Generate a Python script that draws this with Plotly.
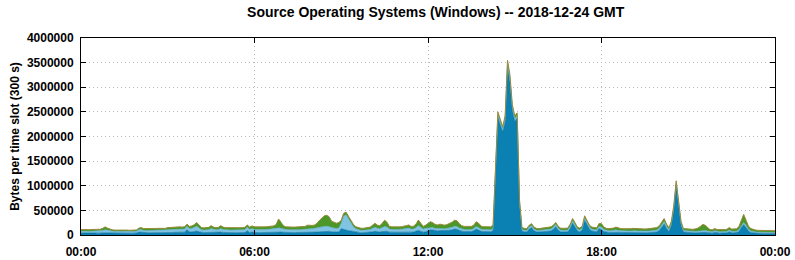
import plotly.graph_objects as go
import pandas as pd

# Values in thousands of bytes per 300 s slot, 00:00 .. 24:00 (289 slots)
dark_blue_k = [
    40,42,40,38,40,42,40,38,42,45,50,45,
    42,40,38,40,36,38,40,38,36,37,38,40,
    60,55,45,44,45,46,45,46,47,45,46,47,
    50,52,50,55,52,55,55,58,110,60,62,70,
    80,65,50,48,50,52,60,52,50,52,60,52,
    48,47,46,48,47,48,47,48,50,85,52,60,
    50,50,48,52,50,50,52,54,55,60,70,60,
    55,50,48,48,48,50,50,48,50,52,58,56,
    55,58,60,65,70,75,80,75,65,60,58,60,
    130,110,100,90,80,65,55,50,48,46,48,50,
    55,65,75,65,60,70,80,75,58,55,53,53,
    55,57,58,62,68,58,60,70,95,75,58,65,
    90,105,100,88,85,90,88,84,90,95,105,120,
    115,90,78,72,70,68,72,85,120,100,75,70,
    70,72,68,85,1200,2380,2240,2090,2300,3400,3120,2540,
    2310,2370,620,75,65,62,120,150,85,65,62,65,
    60,62,65,80,115,170,100,65,60,60,62,130,
    240,165,80,65,100,300,215,120,80,70,65,130,
    110,70,55,52,52,55,65,55,52,50,48,50,
    48,52,50,47,45,44,46,47,48,50,52,60,
    95,170,225,130,70,200,520,1020,625,210,60,55,
    45,42,40,42,45,50,55,55,48,40,38,55,
    40,38,40,40,42,65,45,42,46,65,150,210,
    150,80,50,40,36,34,33,32,34,33,32,31,
    31,
]
light_blue_k = [
    35,38,37,35,35,38,37,36,38,45,55,48,
    38,35,33,34,33,33,35,33,32,33,33,34,
    45,55,45,44,45,46,45,46,47,45,46,47,
    55,57,55,60,58,62,60,64,70,65,70,80,
    100,75,55,52,55,56,70,58,55,56,70,58,
    55,55,54,56,55,56,55,57,58,75,60,70,
    60,60,58,62,60,62,63,65,68,75,75,70,
    70,62,60,58,60,60,62,60,63,66,75,72,
    70,72,80,90,95,100,100,95,85,80,75,80,
    110,270,310,240,160,105,70,55,50,48,50,52,
    55,70,80,70,68,80,95,85,62,58,56,56,
    58,60,62,68,72,62,64,75,100,80,62,70,
    50,55,52,45,43,46,44,42,45,48,52,60,
    60,50,42,40,38,37,40,45,55,50,42,40,
    40,41,38,45,50,60,55,55,60,70,65,55,
    55,55,40,35,32,30,40,40,35,32,30,32,
    35,36,36,40,42,45,40,35,35,35,36,45,
    45,40,38,35,38,45,42,40,38,38,38,45,
    50,40,35,33,33,35,40,35,33,33,32,33,
    35,38,36,34,33,32,33,34,35,35,36,40,
    40,45,50,42,35,35,35,35,35,32,32,32,
    30,30,28,30,32,35,38,37,32,28,27,32,
    28,27,28,28,30,35,30,30,32,40,45,45,
    45,35,30,27,25,24,23,23,24,23,23,22,
    22,
]
green_k = [
    35,35,35,35,35,35,35,36,38,45,60,47,
    35,30,29,28,29,29,29,29,28,28,29,28,
    35,40,40,40,40,40,40,41,41,40,40,41,
    45,46,45,45,45,48,45,48,40,50,53,60,
    75,60,45,45,45,47,60,50,45,47,60,50,
    47,46,45,46,45,46,46,47,47,45,48,55,
    55,55,54,56,55,56,57,59,62,80,180,130,
    65,53,52,52,52,52,53,52,55,57,67,67,
    70,75,100,145,185,215,220,200,130,115,107,115,
    60,60,55,50,50,50,45,45,42,41,42,43,
    50,65,82,65,62,90,125,100,55,52,51,51,
    52,53,55,60,65,55,56,75,110,75,55,65,
    90,110,98,82,77,84,78,74,80,87,103,120,
    115,90,70,63,62,60,63,70,95,90,63,60,
    60,62,59,70,50,60,55,55,60,80,65,55,
    55,55,40,40,38,38,40,40,40,38,38,38,
    40,42,44,45,43,40,40,40,40,40,42,45,
    50,45,42,40,42,45,43,40,42,42,42,60,
    70,50,45,45,45,50,55,50,45,45,45,47,
    45,45,44,44,42,42,43,44,45,45,47,50,
    55,55,60,48,45,45,45,45,40,38,38,38,
    50,48,47,53,63,90,122,108,70,42,40,43,
    42,40,40,42,43,50,45,43,47,65,105,165,
    105,65,50,43,39,37,36,35,37,36,35,35,
    35,
]

y_ticks = [0, 500000, 1000000, 1500000, 2000000, 2500000, 3000000, 3500000, 4000000]
x_tick_labels = ["00:00", "06:00", "12:00", "18:00", "00:00"]

times = pd.date_range("2018-12-24 00:00", periods=len(dark_blue_k), freq="300s")
x_tick_vals = pd.date_range("2018-12-24 00:00", periods=5, freq="6h")

fig = go.Figure()
series = [
    (dark_blue_k, "#0b80b2", "#086f9c", 0.6),
    (light_blue_k, "#80c3e3", "#5fa9cf", 0.6),
    (green_k, "#4b9728", "#9a8a3a", 1.0),
]
for vals, fill, line, lw in series:
    fig.add_trace(go.Scatter(
        x=times, y=[v * 1000 for v in vals], mode="lines",
        stackgroup="s", fillcolor=fill,
        line=dict(color=line, width=lw), showlegend=False,
    ))

font_b = dict(family="Liberation Sans, Arial, sans-serif", size=12, color="black")

fig.update_layout(
    width=795, height=260,
    margin=dict(l=81, r=20, t=38, b=25, autoexpand=False),
    paper_bgcolor="white", plot_bgcolor="white",
    title=dict(text="<b>Source Operating Systems (Windows) -- 2018-12-24 GMT</b>",
               x=0.548, xanchor="center", y=0.955, yanchor="middle",
               font=dict(family="Liberation Sans, Arial, sans-serif", size=14, color="black")),
    font=font_b,
)
fig.update_xaxes(
    range=[times[0], x_tick_vals[-1]], automargin=False,
    tickvals=x_tick_vals, ticktext=["<b>%s</b>" % t for t in x_tick_labels],
    showline=True, linecolor="black", linewidth=1, mirror="ticks",
    ticks="inside", ticklen=5, tickcolor="black", ticklabelstandoff=6,
    showgrid=True, gridcolor="#b8b8b8", griddash="1px,3px", gridwidth=1,
    tickfont=font_b, zeroline=False,
)
fig.update_yaxes(
    range=[0, 4000000], automargin=False,
    tickvals=y_ticks, ticktext=["<b>%d</b>" % v for v in y_ticks],
    showline=True, linecolor="black", linewidth=1, mirror="ticks",
    ticks="inside", ticklen=5, tickcolor="black", ticklabelstandoff=4,
    showgrid=True, gridcolor="#b8b8b8", griddash="1px,3px", gridwidth=1,
    tickfont=font_b, zeroline=False,
    title=dict(text="<b>Bytes per time slot (300 s)</b>", font=font_b, standoff=4),
)

fig.write_html("out.html")
